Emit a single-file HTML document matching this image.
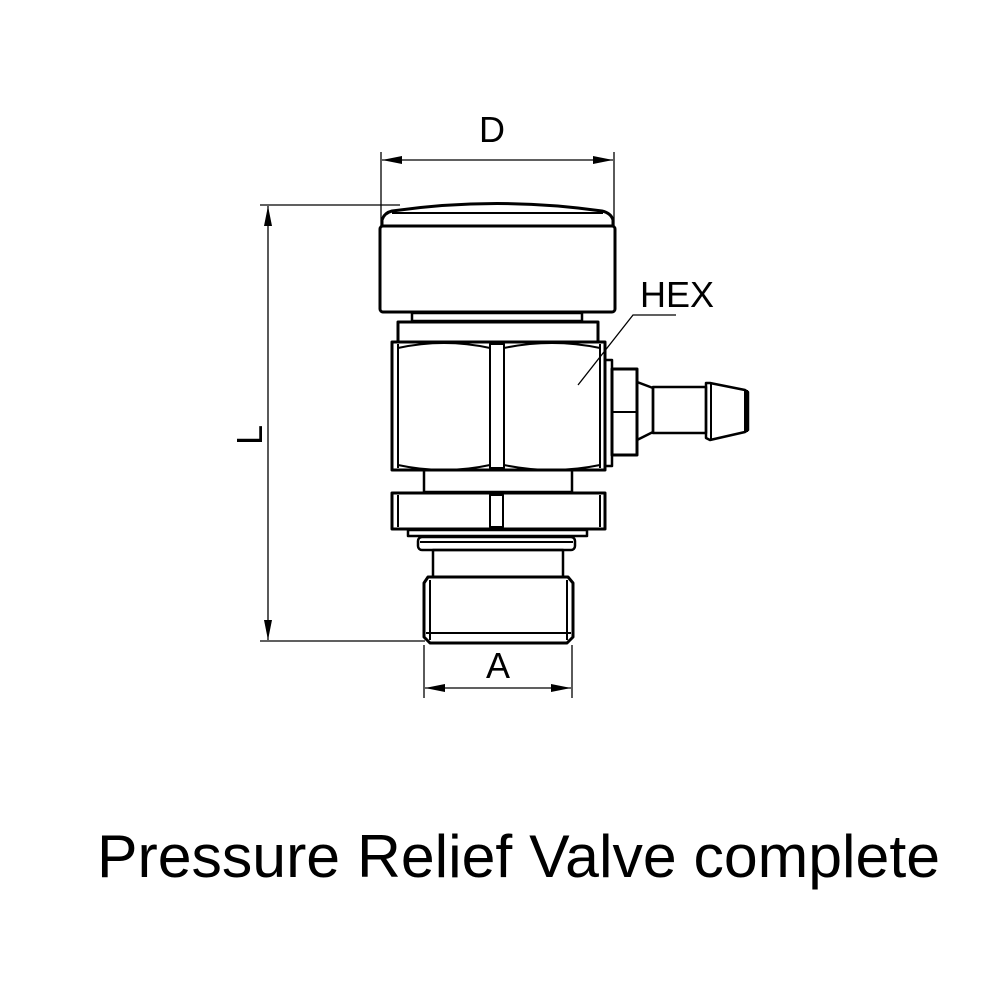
<!DOCTYPE html>
<html><head><style>html,body{margin:0;padding:0;background:#fff}</style></head>
<body>
<svg width="1000" height="1000" viewBox="0 0 1000 1000" xmlns="http://www.w3.org/2000/svg" font-family="Liberation Sans, Arial, sans-serif">
<defs>
<marker id="ar" viewBox="0 0 20 8" refX="20" refY="4" markerWidth="20" markerHeight="8" markerUnits="userSpaceOnUse" orient="auto-start-reverse"><path d="M0,0 L20,4 L0,8 Z" fill="#000"/></marker>
</defs>
<g stroke="#000" fill="none" stroke-width="1.3">
<!-- D dimension -->
<line x1="381" y1="152" x2="381" y2="226"/>
<line x1="614" y1="152" x2="614" y2="226"/>
<line x1="382" y1="160" x2="613" y2="160" marker-start="url(#ar)" marker-end="url(#ar)"/>
<!-- L dimension -->
<line x1="260" y1="205" x2="400" y2="205"/>
<line x1="260" y1="641" x2="425" y2="641"/>
<line x1="268" y1="206" x2="268" y2="640" marker-start="url(#ar)" marker-end="url(#ar)"/>
<!-- A dimension -->
<line x1="424" y1="645" x2="424" y2="698"/>
<line x1="572" y1="645" x2="572" y2="698"/>
<line x1="425" y1="688" x2="571" y2="688" marker-start="url(#ar)" marker-end="url(#ar)"/>
<!-- HEX leader -->
<polyline points="578,385 633,315 676,315"/>
</g>
<g stroke="#000" fill="none" stroke-width="3" stroke-linejoin="round">
<!-- cap -->
<path d="M382,226 L382,220 Q384,213 392,211 Q497,196 602,211 Q611,213 613,220 L613,226"/>
<line x1="392" y1="213" x2="603" y2="213" stroke-width="2"/>
<rect x="380" y="226" width="235" height="86" rx="3"/>
<rect x="412" y="313" width="170" height="8" stroke-width="2.5"/>
<rect x="398" y="322" width="200" height="20"/>
<!-- hex body -->
<rect x="392" y="342" width="213" height="128"/>
<line x1="398" y1="344" x2="398" y2="468" stroke-width="2"/>
<line x1="600" y1="344" x2="600" y2="468" stroke-width="2"/>
<rect x="490" y="344" width="14" height="124" stroke-width="2"/>
<path d="M398,348 Q444,338 490,348 M504,348 Q552,338 600,348 M398,465 Q444,475 490,465 M504,465 Q552,475 600,465" stroke-width="2"/>
<!-- side fitting -->
<rect x="605" y="360" width="7" height="106" stroke-width="2.5"/>
<rect x="612" y="369" width="25" height="86"/>
<line x1="612" y1="412" x2="637" y2="412" stroke-width="2"/>
<path d="M637,382 L653,388 L653,432 L637,440" stroke-width="2.5"/>
<rect x="653" y="387" width="53" height="46" stroke-width="2.5"/>
<path d="M706,383 L706,438 L710,440 L745,432 L748,430 L748,392 L745,390 L710,383 Z" stroke-width="2.5"/>
<line x1="711" y1="384" x2="711" y2="439" stroke-width="2"/>
<line x1="746" y1="390" x2="746" y2="432" stroke-width="4"/>
<!-- lower -->
<rect x="424" y="470" width="148" height="22" stroke-width="2.5"/>
<rect x="392" y="493" width="213" height="36"/>
<line x1="398" y1="495" x2="398" y2="527" stroke-width="2"/>
<line x1="600" y1="495" x2="600" y2="527" stroke-width="2"/>
<rect x="490" y="495" width="13" height="32" stroke-width="2"/>
<rect x="408" y="530" width="179" height="6" stroke-width="2.5"/>
<rect x="418" y="537" width="157" height="13" rx="4" stroke-width="2.5"/>
<line x1="420" y1="542" x2="573" y2="542" stroke-width="2"/>
<rect x="433" y="550" width="130" height="27" stroke-width="2.5"/>
<path d="M428,577 L568,577 L573,583 L573,637 L567,643 L430,643 L424,637 L424,583 Z"/>
<line x1="430" y1="580" x2="430" y2="640" stroke-width="2"/>
<line x1="567" y1="580" x2="567" y2="640" stroke-width="2"/>
<line x1="426" y1="633" x2="571" y2="633" stroke-width="2"/>
</g>
<g fill="#000">
<text x="492" y="142" font-size="36" text-anchor="middle">D</text>
<text x="677" y="307" font-size="36" text-anchor="middle">HEX</text>
<text x="498" y="678" font-size="36" text-anchor="middle">A</text>
<text transform="translate(262,435) rotate(-90)" font-size="36" text-anchor="middle">L</text>
<text x="97" y="877" font-size="60" textLength="843" lengthAdjust="spacingAndGlyphs">Pressure Relief Valve complete</text>
</g>
</svg>
</body></html>
